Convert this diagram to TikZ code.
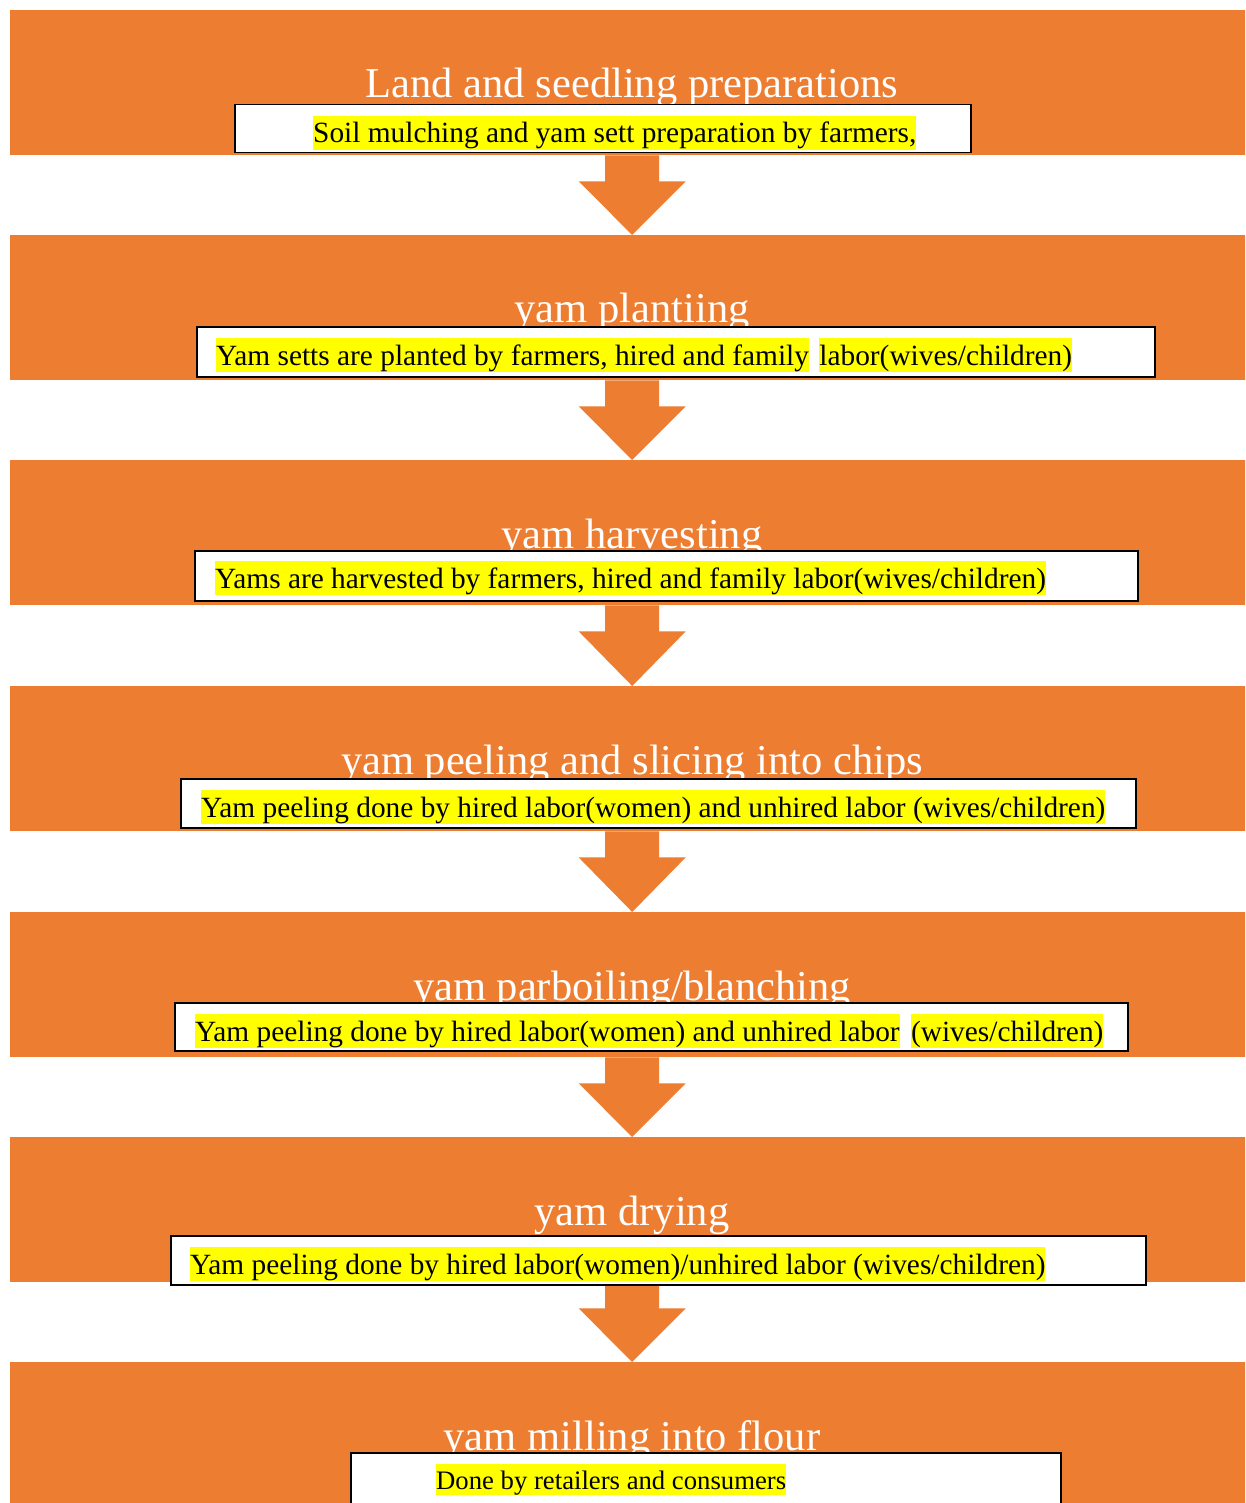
\documentclass[tikz,border=0pt]{standalone}
\usepackage{fontspec}
\setmainfont{Liberation Serif}
\usetikzlibrary{calc}
\definecolor{bandorange}{HTML}{ED7D31}
\definecolor{hlyellow}{HTML}{FFFF00}
\tikzset{
  band/.style={fill=bandorange, draw=none, inner sep=0, anchor=north west, minimum width=1244pt, minimum height=145pt},
  stagetitle/.style={text=white, inner sep=0, anchor=base, font=\fontsize{42.5}{50}\selectfont},
  descbox/.style={fill=white, draw=black, line width=1.5pt, inner sep=0, anchor=north west},
  hl/.style={fill=hlyellow, inner xsep=0, inner ysep=0, anchor=base west, text height=27pt, text depth=7pt, font=\fontsize{29.35}{34}\selectfont},
  hlsmall/.style={hl, text height=25pt, text depth=6pt, font=\fontsize{26.7}{31}\selectfont},
  flowarrow/.style={fill=bandorange, draw=none}
}
\begin{document}
\begin{tikzpicture}[x=1pt, y=-1pt]
\useasboundingbox (0,0) rectangle (1245,1503);
\clip (0,0) rectangle (1245,1503);
% bands
\node[band] (b1) at (10,10) {};
\node[band] (b2) at (10,235) {};
\node[band] (b3) at (10,460) {};
\node[band] (b4) at (10,686) {};
\node[band] (b5) at (10,912) {};
\node[band] (b6) at (10,1137) {};
\node[band] (b7) at (10,1362) {};
% arrows
\foreach \a/\b in {b1/b2, b2/b3, b3/b4, b4/b5, b5/b6, b6/b7}{
  \fill[flowarrow] ($(\a.south)+(-27,0)$) -- ($(\a.south)+(27,0)$) -- ($(\a.south)+(27,26)$)
    -- ($(\a.south)+(53.5,26)$) -- (\b.north) -- ($(\a.south)+(-53.5,26)$) -- ($(\a.south)+(-27,26)$) -- cycle;
}
% titles
\node[stagetitle] (t1) at (632,98) {Land and seedling preparations};
\node[stagetitle] (t2) at (632,323) {yam plantiing};
\node[stagetitle] (t3) at (632,548) {yam harvesting};
\node[stagetitle] (t4) at (632,774) {yam peeling and slicing into chips};
\node[stagetitle] (t5) at (632,1000) {yam parboiling/blanching};
\node[stagetitle] (t6) at (632,1225) {yam drying};
\node[stagetitle] (t7) at (632,1450) {yam milling into flour};
% boxes
\node[descbox, minimum width=736pt, minimum height=48pt] (x1) at (234,104) {};
\node[descbox, minimum width=958pt, minimum height=50pt] (x2) at (196,326) {};
\node[descbox, minimum width=943pt, minimum height=50pt] (x3) at (194,550) {};
\node[descbox, minimum width=955pt, minimum height=49pt] (x4) at (180,778) {};
\node[descbox, minimum width=953pt, minimum height=48pt] (x5) at (174,1002) {};
\node[descbox, minimum width=975pt, minimum height=49pt] (x6) at (170,1235) {};
\node[descbox, minimum width=710pt, minimum height=70pt] (x7) at (350,1452) {};
% highlighted texts
\node[hl] (h1) at (313,143) {Soil mulching and yam sett preparation by farmers,};
\node[hl] (h2a) at (216,365) {Yam setts are planted by farmers, hired and family};
\node[hl] (h2b) at ([xshift=10pt]h2a.base east) {labor(wives/children)};
\node[hl] (h3) at (215,588) {Yams are harvested by farmers, hired and family labor(wives/children)};
\node[hl] (h4) at (201,817) {Yam peeling done by hired labor(women) and unhired labor (wives/children)};
\node[hl] (h5a) at (195,1041) {Yam peeling done by hired labor(women) and unhired labor};
\node[hl] (h5b) at ([xshift=11pt]h5a.base east) {(wives/children)};
\node[hl] (h6) at (190,1274) {Yam peeling done by hired labor(women)/unhired labor (wives/children)};
\node[hlsmall] (h7) at (436,1489) {Done by retailers and consumers};
\end{tikzpicture}
\end{document}
